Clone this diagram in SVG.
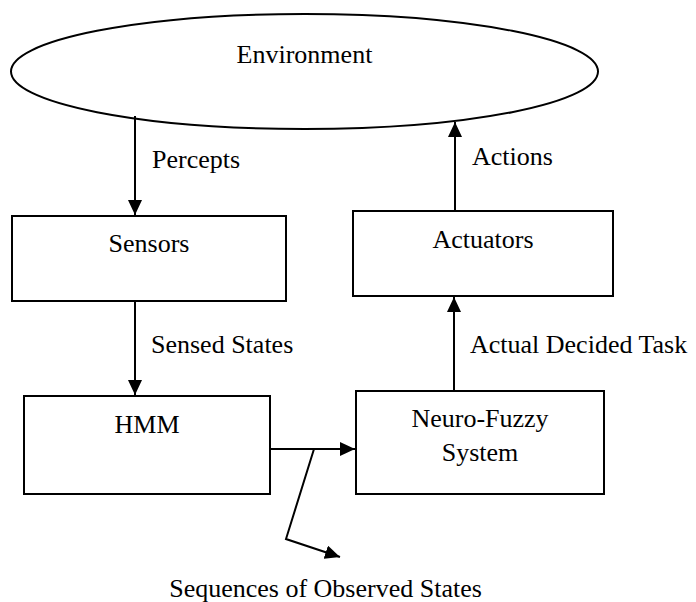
<svg xmlns="http://www.w3.org/2000/svg" width="696" height="602" viewBox="0 0 696 602">
<defs>
<marker id="ah" markerUnits="userSpaceOnUse" markerWidth="16" markerHeight="14" refX="15" refY="7" orient="auto">
<path d="M0,0 L15,7 L0,14 Z" fill="#000"/>
</marker>
<style>
.n{fill:#fff;stroke:#000;stroke-width:2}
.t{font-family:"Liberation Serif","Times New Roman",serif;font-size:26px;fill:#000}
.m{text-anchor:middle}
.c{fill:none;stroke:#000;stroke-width:2}
</style>
</defs>
<rect width="696" height="602" fill="#fff"/>
<g id="environment">
<ellipse class="n" cx="304.5" cy="71.5" rx="293.5" ry="57.5"/>
<text class="t m" x="304.5" y="63">Environment</text>
</g>
<g id="sensors">
<rect class="n" x="12" y="216" width="274" height="85"/>
<text class="t m" x="149" y="252">Sensors</text>
</g>
<g id="actuators">
<rect class="n" x="353" y="211" width="260" height="85"/>
<text class="t m" x="483" y="248">Actuators</text>
</g>
<g id="hmm">
<rect class="n" x="24" y="396" width="246" height="98"/>
<text class="t m" x="147" y="433">HMM</text>
</g>
<g id="neurofuzzy">
<rect class="n" x="356" y="391" width="248" height="103"/>
<text class="t m" x="480" y="427">Neuro-Fuzzy</text>
<text class="t m" x="480" y="461">System</text>
</g>
<g id="connectors">
<line class="c" x1="135" y1="116" x2="135" y2="215" marker-end="url(#ah)"/>
<line class="c" x1="135" y1="301" x2="135" y2="395" marker-end="url(#ah)"/>
<line class="c" x1="270" y1="449" x2="355" y2="449" marker-end="url(#ah)"/>
<line class="c" x1="454" y1="391" x2="454" y2="297" marker-end="url(#ah)"/>
<line class="c" x1="455" y1="211" x2="455" y2="122" marker-end="url(#ah)"/>
<polyline class="c" points="314,449 286,539 340,557" marker-end="url(#ah)"/>
</g>
<g id="labels">
<text class="t" x="152" y="168">Percepts</text>
<text class="t" x="472" y="165">Actions</text>
<text class="t" x="151" y="353">Sensed States</text>
<text class="t" x="470" y="353">Actual Decided Task</text>
<text class="t m" x="325.5" y="597">Sequences of Observed States</text>
</g>
</svg>
